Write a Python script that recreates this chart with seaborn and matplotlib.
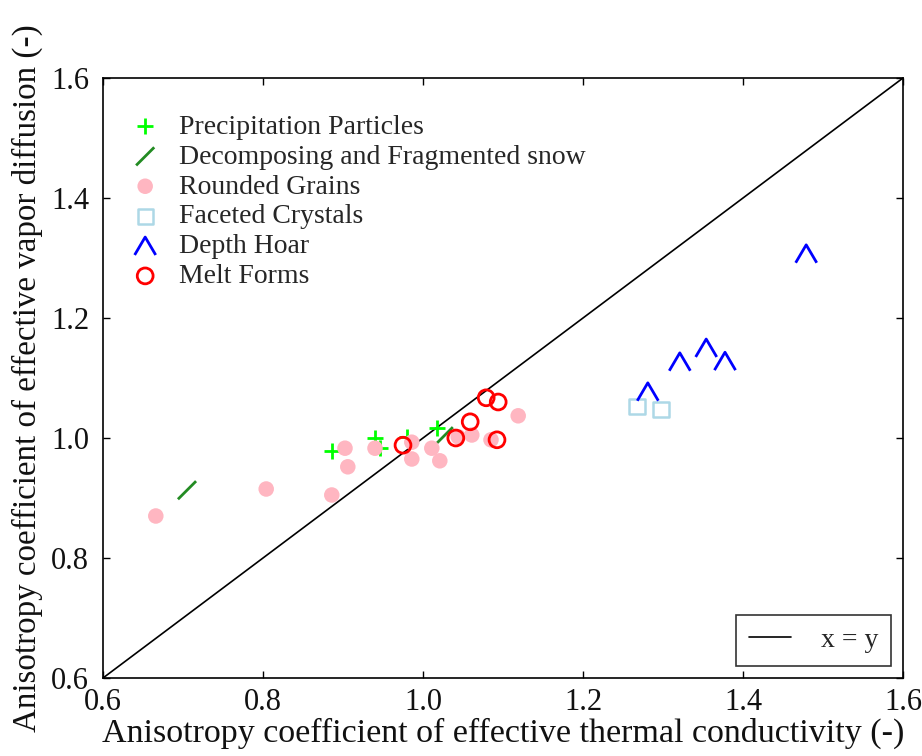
import numpy as np
import pandas as pd
import matplotlib
matplotlib.use("Agg")
import matplotlib.pyplot as plt
import seaborn as sns

# ---- data ----
precip_x = [0.886, 0.940, 0.946, 0.980, 1.018]
precip_y = [0.978, 1.000, 0.983, 1.002, 1.017]

decomp_x = [0.705, 1.026]
decomp_y = [0.913, 1.003]

rounded_x = [0.666, 0.804, 0.886, 0.9025, 0.906, 0.940, 0.986, 0.986, 1.011, 1.021, 1.044, 1.061, 1.085, 1.119]
rounded_y = [0.870, 0.915, 0.905, 0.983, 0.952, 0.983, 0.993, 0.965, 0.983, 0.962, 1.002, 1.005, 0.997, 1.037]

faceted_x = [1.2675, 1.2975]
faceted_y = [1.052, 1.048]

hoar_x = [1.281, 1.321, 1.354, 1.3775, 1.479]
hoar_y = [1.077, 1.127, 1.150, 1.128, 1.307]

melt_x = [0.975, 1.041, 1.059, 1.079, 1.094, 1.0925]
melt_y = [0.988, 1.000, 1.027, 1.067, 1.060, 0.997]

labels = ["Precipitation Particles", "Decomposing and Fragmented snow",
          "Rounded Grains", "Faceted Crystals", "Depth Hoar", "Melt Forms"]
xticks = [0.6, 0.8, 1.0, 1.2, 1.4, 1.6]
yticks = [0.6, 0.8, 1.0, 1.2, 1.4, 1.6]

# ---- style ----
sns.set_style("ticks")
plt.rcParams["font.family"] = ["Liberation Serif", "DejaVu Serif"]

fig = plt.figure(figsize=(9.22, 7.56), dpi=100)
ax = fig.add_axes([103/922, 1 - 678/756, 800/922, 600/756])

slash = [(-1, -1), (1, 1)]
caret = [(-1, -0.85), (0, 0.85), (1, -0.85)]

sns.scatterplot(x=precip_x, y=precip_y, ax=ax, marker="+", s=140, color="#00ff00",
                linewidth=2.0, label=labels[0], zorder=3)
sns.scatterplot(x=decomp_x, y=decomp_y, ax=ax, marker=slash, s=170, color="#228b22",
                facecolor="none", edgecolor="#228b22", linewidth=2.0, label=labels[1], zorder=3)
sns.scatterplot(x=rounded_x, y=rounded_y, ax=ax, marker="o", s=125, color="#ffb6c1",
                edgecolor="none", linewidth=0, label=labels[2], zorder=4)
sns.scatterplot(x=faceted_x, y=faceted_y, ax=ax, marker="s", s=120, color="#add8e6",
                facecolor="none", edgecolor="#add8e6", linewidth=1.8, label=labels[3], zorder=4)
sns.scatterplot(x=hoar_x, y=hoar_y, ax=ax, marker=caret, s=230, color="blue",
                facecolor="none", edgecolor="blue", linewidth=2.0, label=labels[4], zorder=5)
sns.scatterplot(x=melt_x, y=melt_y, ax=ax, marker="o", s=130, color="red",
                facecolor="none", edgecolor="red", linewidth=2.0, label=labels[5], zorder=5)

handles, labs = ax.get_legend_handles_labels()
leg1 = ax.legend(handles, labs, loc="upper left", bbox_to_anchor=(0.018, 0.958),
                 frameon=False, fontsize=20, handlelength=1.2, handletextpad=0.6,
                 labelspacing=0.16, borderaxespad=0.0, borderpad=0.4)
ax.add_artist(leg1)

line, = ax.plot([0.6, 1.6], [0.6, 1.6], color="black", linewidth=1.2, zorder=2)
leg2 = ax.legend([line], ["x = y"], loc="lower right", fontsize=20, frameon=True,
                 fancybox=False, handlelength=1.5, handletextpad=1.08,
                 borderaxespad=0.45, borderpad=0.45)
leg2.get_frame().set_edgecolor("black")
leg2.get_frame().set_linewidth(1.2)

ax.set_xlim(0.6, 1.6)
ax.set_ylim(0.6, 1.6)
ax.set_xticks(xticks)
ax.set_yticks(yticks)
ax.set_xticklabels([f"{t:.1f}" for t in xticks])
ax.set_yticklabels([f"{t:.1f}" for t in yticks])
ax.tick_params(direction="in", top=True, right=True, length=5, width=1,
               labelsize=22, color="black", labelcolor="#111111")
ax.tick_params(axis="x", pad=7)
ax.tick_params(axis="y", pad=10)
for sp in ax.spines.values():
    sp.set_visible(True)
    sp.set_color("black")
    sp.set_linewidth(1.2)

ax.set_xlabel("Anisotropy coefficient of effective thermal conductivity (-)", fontsize=24.5,
              labelpad=1, color="#111111")
ax.set_ylabel("Anisotropy coefficient of effective vapor diffusion (-)", fontsize=23.8,
              labelpad=6, color="#111111")

fig.savefig("out.png", dpi=100, facecolor="white")
